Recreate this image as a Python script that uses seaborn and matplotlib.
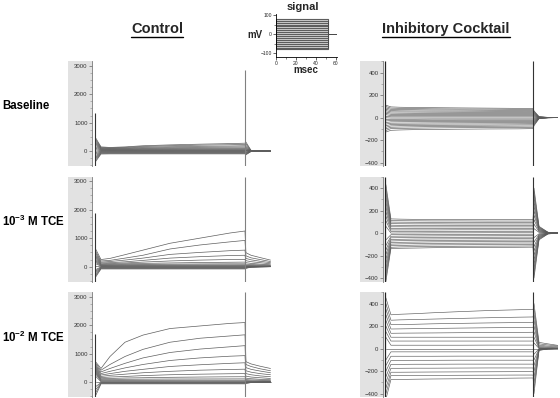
import pandas as pd
import seaborn as sns
import matplotlib.pyplot as plt
from matplotlib.lines import Line2D
from matplotlib.patches import Rectangle
from matplotlib.ticker import MultipleLocator

sns.set_theme(style='white')
plt.rcParams['font.family'] = ['Liberation Sans', 'DejaVu Sans']
plt.rcParams['mathtext.default'] = 'regular'

# times (ms) sampled during the voltage step and in the tail after it
step_t = [0.3, 2, 5, 10, 16, 25, 35, 45, 50]
tail_t = [50.3, 52, 55, 58.5]
step_on, step_off = 0, 50

row_labels = ['Baseline', '10$^{-3}$ M TCE', '10$^{-2}$ M TCE']
col_titles = ['Control', 'Inhibitory Cocktail']

# ---- Control column (current traces) ----
ctrl_base = [
    [450, 150, 130, 150, 190, 220, 245, 265, 280],
    [400, 130, 115, 130, 165, 190, 210, 225, 235],
    [350, 110, 100, 110, 135, 155, 170, 180, 190],
    [300, 95, 85, 95, 110, 125, 135, 145, 150],
    [250, 80, 70, 78, 88, 98, 105, 112, 115],
    [200, 65, 58, 62, 70, 76, 82, 86, 88],
    [150, 50, 45, 48, 52, 56, 60, 62, 64],
    [100, 38, 34, 36, 38, 40, 42, 44, 45],
    [50, 25, 22, 24, 25, 26, 27, 28, 28],
    [0, 12, 10, 10, 12, 12, 13, 13, 14],
    [-50, 0, 0, 0, 0, 0, 0, 0, 0],
    [-100, -15, -14, -14, -14, -14, -14, -14, -14],
    [-150, -30, -28, -28, -28, -28, -28, -28, -28],
    [-200, -45, -42, -42, -42, -42, -42, -42, -42],
    [-250, -60, -58, -58, -58, -58, -58, -58, -58],
    [-300, -80, -75, -75, -75, -75, -75, -75, -75],
    [-350, -100, -95, -95, -95, -95, -95, -95, -95],
]
ctrl_base_tail = [
    [320, 30, 10, 5], [260, 25, 8, 5], [200, 20, 6, 4], [150, 15, 5, 3],
    [110, 10, 4, 2], [80, 8, 3, 2], [55, 6, 2, 1], [35, 4, 1, 1],
    [20, 2, 1, 0], [8, 1, 0, 0], [0, 0, 0, 0], [-30, -2, 0, 0],
    [-50, -4, -1, 0], [-70, -6, -1, 0], [-90, -8, -2, 0],
    [-110, -10, -2, 0], [-130, -12, -3, 0],
]
ctrl_tce3 = [
    [600, 250, 290, 420, 580, 820, 1000, 1180, 1250],
    [520, 200, 220, 300, 400, 620, 760, 870, 920],
    [460, 160, 180, 230, 300, 430, 500, 560, 580],
    [400, 130, 140, 170, 220, 300, 350, 390, 400],
    [350, 100, 110, 130, 160, 200, 230, 250, 255],
    [300, 80, 85, 100, 115, 130, 145, 155, 160],
    [250, 60, 65, 72, 80, 88, 95, 100, 100],
    [200, 45, 48, 52, 56, 60, 63, 65, 66],
    [150, 30, 32, 34, 36, 38, 40, 41, 42],
    [100, 18, 18, 20, 20, 22, 22, 23, 24],
    [0, 5, 5, 6, 6, 6, 7, 7, 8],
    [-100, -8, -8, -8, -8, -8, -8, -8, -8],
    [-150, -20, -20, -20, -20, -20, -20, -20, -20],
    [-200, -35, -35, -35, -35, -35, -35, -35, -35],
    [-250, -50, -50, -50, -50, -50, -50, -50, -50],
    [-300, -65, -65, -65, -65, -65, -65, -65, -65],
    [-350, -80, -80, -80, -80, -80, -80, -80, -80],
]
ctrl_tce3_tail = [
    [490, 400, 320, 230], [380, 310, 250, 180], [290, 240, 190, 140],
    [210, 175, 140, 100], [140, 115, 90, 65], [90, 75, 60, 45],
    [55, 45, 36, 28], [35, 28, 22, 18], [20, 16, 12, 10], [10, 8, 6, 5],
    [0, 0, 0, 0], [-10, -5, -2, 0], [-20, -8, -3, 0], [-30, -10, -4, 0],
    [-40, -12, -5, 0], [-50, -15, -5, 0], [-60, -18, -6, 0],
]
ctrl_tce2 = [
    [700, 480, 900, 1400, 1650, 1880, 1970, 2060, 2090],
    [650, 420, 620, 900, 1150, 1400, 1540, 1620, 1660],
    [600, 360, 480, 660, 850, 1040, 1160, 1240, 1280],
    [560, 300, 380, 500, 620, 760, 850, 910, 930],
    [520, 250, 300, 380, 450, 550, 610, 660, 680],
    [480, 200, 240, 280, 330, 380, 420, 445, 455],
    [440, 160, 180, 200, 230, 260, 280, 295, 300],
    [400, 120, 130, 145, 155, 170, 180, 188, 190],
    [360, 90, 95, 100, 105, 110, 112, 114, 115],
    [320, 60, 62, 65, 66, 68, 70, 70, 70],
    [280, 35, 36, 38, 38, 40, 40, 40, 40],
    [200, 15, 15, 16, 16, 17, 17, 18, 18],
    [0, 0, 0, 0, 0, 0, 0, 0, 0],
    [-150, -15, -15, -15, -15, -15, -15, -15, -15],
    [-250, -30, -30, -30, -30, -30, -30, -30, -30],
    [-350, -45, -45, -45, -45, -45, -45, -45, -45],
    [-450, -60, -60, -60, -60, -60, -60, -60, -60],
]
ctrl_tce2_tail = [
    [720, 640, 560, 480], [620, 550, 470, 400], [510, 450, 390, 330],
    [400, 350, 300, 260], [300, 260, 220, 190], [210, 180, 155, 130],
    [140, 120, 100, 85], [90, 78, 66, 56], [55, 48, 40, 34],
    [35, 30, 25, 20], [20, 17, 14, 12], [10, 8, 7, 6], [0, 0, 0, 0],
    [-15, -6, -2, 0], [-25, -10, -3, 0], [-35, -12, -4, 0], [-45, -15, -5, 0],
]
ctrl_on_peak = [1350, 1870, 1680]
ctrl_off_top = [2830, 3150, 3150]

# ---- Inhibitory cocktail column ----
inh_base = [
    [110, 95, 92, 90, 88, 86, 84, 82, 80],
    [98, 84, 82, 80, 78, 76, 75, 73, 72],
    [86, 73, 71, 70, 68, 67, 65, 64, 63],
    [74, 62, 60, 59, 58, 57, 56, 55, 54],
    [62, 51, 50, 49, 48, 47, 46, 46, 45],
    [50, 40, 39, 38, 38, 37, 37, 36, 36],
    [38, 29, 28, 28, 27, 27, 27, 26, 26],
    [26, 18, 18, 17, 17, 17, 17, 17, 17],
    [12, 7, 7, 7, 7, 7, 7, 7, 7],
    [-2, -4, -4, -4, -4, -4, -4, -4, -4],
    [-16, -15, -15, -15, -14, -14, -14, -14, -14],
    [-30, -26, -26, -25, -25, -24, -24, -24, -24],
    [-44, -38, -37, -36, -36, -35, -35, -34, -34],
    [-58, -50, -49, -48, -47, -46, -45, -45, -44],
    [-72, -62, -60, -59, -58, -57, -56, -55, -54],
    [-86, -74, -72, -71, -69, -68, -67, -65, -64],
    [-100, -86, -84, -82, -80, -79, -77, -76, -75],
    [-114, -98, -96, -94, -92, -90, -89, -87, -86],
    [-128, -113, -110, -107, -105, -103, -101, -100, -98],
]
inh_base_tail = [
    [60, 8, 2, 0], [54, 7, 2, 0], [47, 6, 1, 0], [40, 5, 1, 0],
    [34, 4, 1, 0], [27, 3, 1, 0], [20, 2, 0, 0], [13, 1, 0, 0],
    [5, 1, 0, 0], [-3, 0, 0, 0], [-10, -1, 0, 0], [-18, -2, 0, 0],
    [-25, -3, -1, 0], [-33, -4, -1, 0], [-40, -5, -1, 0],
    [-48, -6, -1, 0], [-56, -7, -2, 0], [-64, -8, -2, 0], [-72, -9, -2, 0],
]
inh_tce3 = [
    [430, 126, 124, 122, 121, 121, 120, 120, 120],
    [390, 112, 110, 109, 108, 108, 107, 107, 107],
    [350, 98, 97, 96, 95, 95, 94, 94, 94],
    [310, 84, 83, 82, 82, 81, 81, 81, 81],
    [270, 70, 69, 69, 68, 68, 68, 68, 68],
    [230, 56, 56, 55, 55, 55, 55, 55, 55],
    [190, 42, 42, 42, 42, 42, 42, 42, 42],
    [150, 28, 28, 28, 28, 29, 29, 29, 29],
    [110, 14, 14, 15, 15, 15, 16, 16, 16],
    [60, 0, 1, 1, 2, 2, 3, 3, 3],
    [-60, -14, -13, -12, -12, -11, -11, -10, -10],
    [-110, -28, -27, -26, -25, -24, -24, -23, -23],
    [-150, -42, -41, -40, -39, -38, -37, -36, -36],
    [-190, -56, -55, -53, -52, -51, -50, -49, -49],
    [-230, -70, -68, -67, -65, -64, -63, -62, -62],
    [-270, -84, -82, -80, -78, -77, -76, -75, -75],
    [-310, -98, -96, -94, -92, -90, -89, -88, -88],
    [-350, -112, -110, -107, -105, -104, -102, -101, -101],
    [-390, -126, -123, -121, -119, -117, -116, -115, -114],
    [-430, -138, -135, -133, -130, -128, -127, -126, -125],
]
inh_tce3_tail = [
    [400, 60, 8, 0], [360, 54, 7, 0], [320, 48, 6, 0], [280, 42, 5, 0],
    [240, 36, 4, 0], [200, 30, 4, 0], [160, 24, 3, 0], [120, 18, 2, 0],
    [80, 12, 1, 0], [40, 6, 1, 0], [-40, -6, -1, 0], [-80, -12, -1, 0],
    [-120, -18, -2, 0], [-160, -24, -3, 0], [-200, -30, -4, 0],
    [-240, -36, -4, 0], [-280, -42, -5, 0], [-320, -48, -6, 0],
    [-360, -54, -7, 0], [-400, -60, -8, 0],
]
inh_tce2 = [
    [450, 300, 305, 310, 318, 328, 338, 345, 348],
    [400, 252, 255, 258, 262, 268, 274, 279, 281],
    [350, 212, 214, 216, 220, 224, 228, 231, 232],
    [300, 174, 175, 177, 179, 182, 185, 187, 188],
    [250, 136, 137, 138, 139, 141, 143, 144, 145],
    [200, 101, 101, 101, 101, 101, 101, 101, 101],
    [150, 67, 67, 67, 67, 67, 67, 67, 67],
    [100, 30, 30, 30, 30, 30, 31, 31, 31],
    [0, 0, 0, 0, 0, 0, 0, 0, 0],
    [-100, -29, -29, -29, -29, -29, -29, -29, -29],
    [-150, -68, -68, -68, -68, -67, -67, -67, -67],
    [-200, -105, -105, -104, -104, -103, -103, -103, -103],
    [-250, -140, -140, -139, -139, -138, -138, -138, -138],
    [-300, -175, -175, -174, -174, -173, -172, -172, -172],
    [-350, -210, -210, -209, -208, -207, -206, -205, -205],
    [-400, -240, -240, -239, -238, -237, -236, -235, -235],
    [-450, -275, -274, -272, -270, -268, -265, -262, -261],
]
inh_tce2_tail = [
    [400, 55, 42, 28], [350, 42, 32, 22], [300, 30, 22, 15], [250, 20, 14, 8],
    [200, 12, 8, 4], [150, 6, 4, 2], [100, 3, 2, 1], [50, 1, 0, 0],
    [0, 0, 0, 0], [-50, -2, 0, 0], [-100, -4, -1, 0], [-150, -6, -1, 0],
    [-200, -8, -2, 0], [-250, -10, -2, 0], [-300, -12, -3, 0],
    [-350, -14, -3, 0], [-400, -16, -4, 0],
]

# ---- command signal (mV) ----
sig_levels = [-80, -70, -60, -50, -40, -30, -20, -10, 0, 10, 20, 30, 40, 50, 60, 70, 80]
sig_t = [0, 0, 52, 52, 60]


def to_frame(steps, tails):
    rows = []
    for k, (s, tl) in enumerate(zip(steps, tails)):
        for t, v in zip(step_t + tail_t, s + tl):
            rows.append((k, t, v))
    return pd.DataFrame(rows, columns=['sweep', 't', 'I'])


fig = plt.figure(figsize=(5.6, 3.98), dpi=100)
W, H = 560, 398


def px_rect(x0, y_top, w, h):
    return [x0 / W, 1 - (y_top + h) / H, w / W, h / H]


row_tops = [61.3, 176.8, 292.3]
row_h = 104.7

ctrl_sets = [(ctrl_base, ctrl_base_tail), (ctrl_tce3, ctrl_tce3_tail), (ctrl_tce2, ctrl_tce2_tail)]
inh_sets = [(inh_base, inh_base_tail), (inh_tce3, inh_tce3_tail), (inh_tce2, inh_tce2_tail)]


def style_panel(ax, strip_w, major, minor):
    sns.despine(ax=ax, bottom=True)
    ax.spines['left'].set_color('#777777')
    ax.spines['left'].set_linewidth(0.6)
    ax.set_xticks([])
    ax.set_xlabel('')
    ax.set_ylabel('')
    ax.yaxis.set_major_locator(MultipleLocator(major))
    ax.yaxis.set_minor_locator(MultipleLocator(minor))
    ax.tick_params(axis='y', which='major', left=True, direction='out', length=2.2,
                   width=0.5, color='#666666', labelsize=4.3, labelcolor='#333333', pad=1)
    ax.tick_params(axis='y', which='minor', left=True, direction='out', length=1.2,
                   width=0.4, color='#888888')
    ax.add_patch(Rectangle((-strip_w, 0), strip_w, 1, transform=ax.transAxes,
                           facecolor='#e2e2e2', edgecolor='none', clip_on=False, zorder=-5))


for r in range(3):
    # control panel
    ax = fig.add_axes(px_rect(92, row_tops[r], 180, row_h))
    df = to_frame(*ctrl_sets[r])
    sns.lineplot(data=df, x='t', y='I', units='sweep', estimator=None, sort=False,
                 color='#5e5e5e', lw=0.5, ax=ax, legend=False)
    ax.set_xlim(-1, 59)
    ax.set_ylim(-520, 3150)
    ax.vlines(step_on, -520, ctrl_on_peak[r], color='#333333', lw=0.8)
    ax.vlines(step_off, -520, ctrl_off_top[r], color='#808080', lw=0.8)
    style_panel(ax, 24 / 180, 1000, 250)

    # inhibitory cocktail panel
    ax = fig.add_axes(px_rect(383, row_tops[r], 175, row_h))
    df = to_frame(*inh_sets[r])
    sns.lineplot(data=df, x='t', y='I', units='sweep', estimator=None, sort=False,
                 color='#5a5a5a', lw=0.45, ax=ax, legend=False)
    ax.set_xlim(-0.68, 58.4)
    ax.set_ylim(-430, 500)
    ax.vlines(step_on, -430, 500, color='#222222', lw=0.9)
    ax.vlines(step_off, -430, 500, color='#333333', lw=0.8)
    style_panel(ax, 23 / 175, 200, 100)

    fig.text(2 / W, 1 - (106 + 115.5 * r) / H, row_labels[r], fontsize=8.3,
             fontweight='bold', ha='left', va='center', color='black')

# command signal inset
axs = fig.add_axes(px_rect(276, 14, 61, 42.7))
sig_rows = [(lv, t, v) for lv in sig_levels for t, v in zip(sig_t, [0, lv, lv, 0, 0])]
sig_df = pd.DataFrame(sig_rows, columns=['level', 't', 'mV'])
axs.fill_between([sig_t[1], sig_t[2]], min(sig_levels), max(sig_levels), color='#c4c4c4', zorder=0)
sns.lineplot(data=sig_df, x='t', y='mV', units='level', estimator=None, sort=False,
             color='#4a4a4a', lw=0.6, ax=axs, legend=False)
axs.set_xlim(0, 61)
axs.set_ylim(-118, 105)
sns.despine(ax=axs)
for s in ['left', 'bottom']:
    axs.spines[s].set_color('black')
    axs.spines[s].set_linewidth(0.6)
axs.set_xticks([0, 20, 40, 60])
axs.set_yticks([-100, 0, 100])
axs.xaxis.set_minor_locator(MultipleLocator(10))
axs.yaxis.set_minor_locator(MultipleLocator(50))
axs.tick_params(which='major', bottom=True, left=True, direction='out', length=2,
                width=0.5, labelsize=3.6, pad=0.8)
axs.tick_params(which='minor', bottom=True, left=True, direction='out', length=1.2, width=0.4)
axs.set_xlabel('')
axs.set_ylabel('')
fig.text(255 / W, 1 - 35 / H, 'mV', fontsize=7, fontweight='bold', ha='center', va='center')
fig.text(306 / W, 1 - 70 / H, 'msec', fontsize=7, fontweight='bold', ha='center', va='center')
fig.text(303 / W, 1 - 7 / H, 'signal', fontsize=8, fontweight='bold', ha='center', va='center')

# underlined column titles
renderer = fig.canvas.get_renderer()
for title, cx in zip(col_titles, [157, 446]):
    txt = fig.text(cx / W, 1 - 29 / H, title, fontsize=10.5, fontweight='bold',
                   ha='center', va='center')
    bb = txt.get_window_extent(renderer)
    y_line = bb.y0 - 0.5
    fig.add_artist(Line2D([bb.x0 / W, bb.x1 / W], [y_line / H, y_line / H],
                          transform=fig.transFigure, color='black', lw=1.0))

fig.savefig('out.png', dpi=100)
